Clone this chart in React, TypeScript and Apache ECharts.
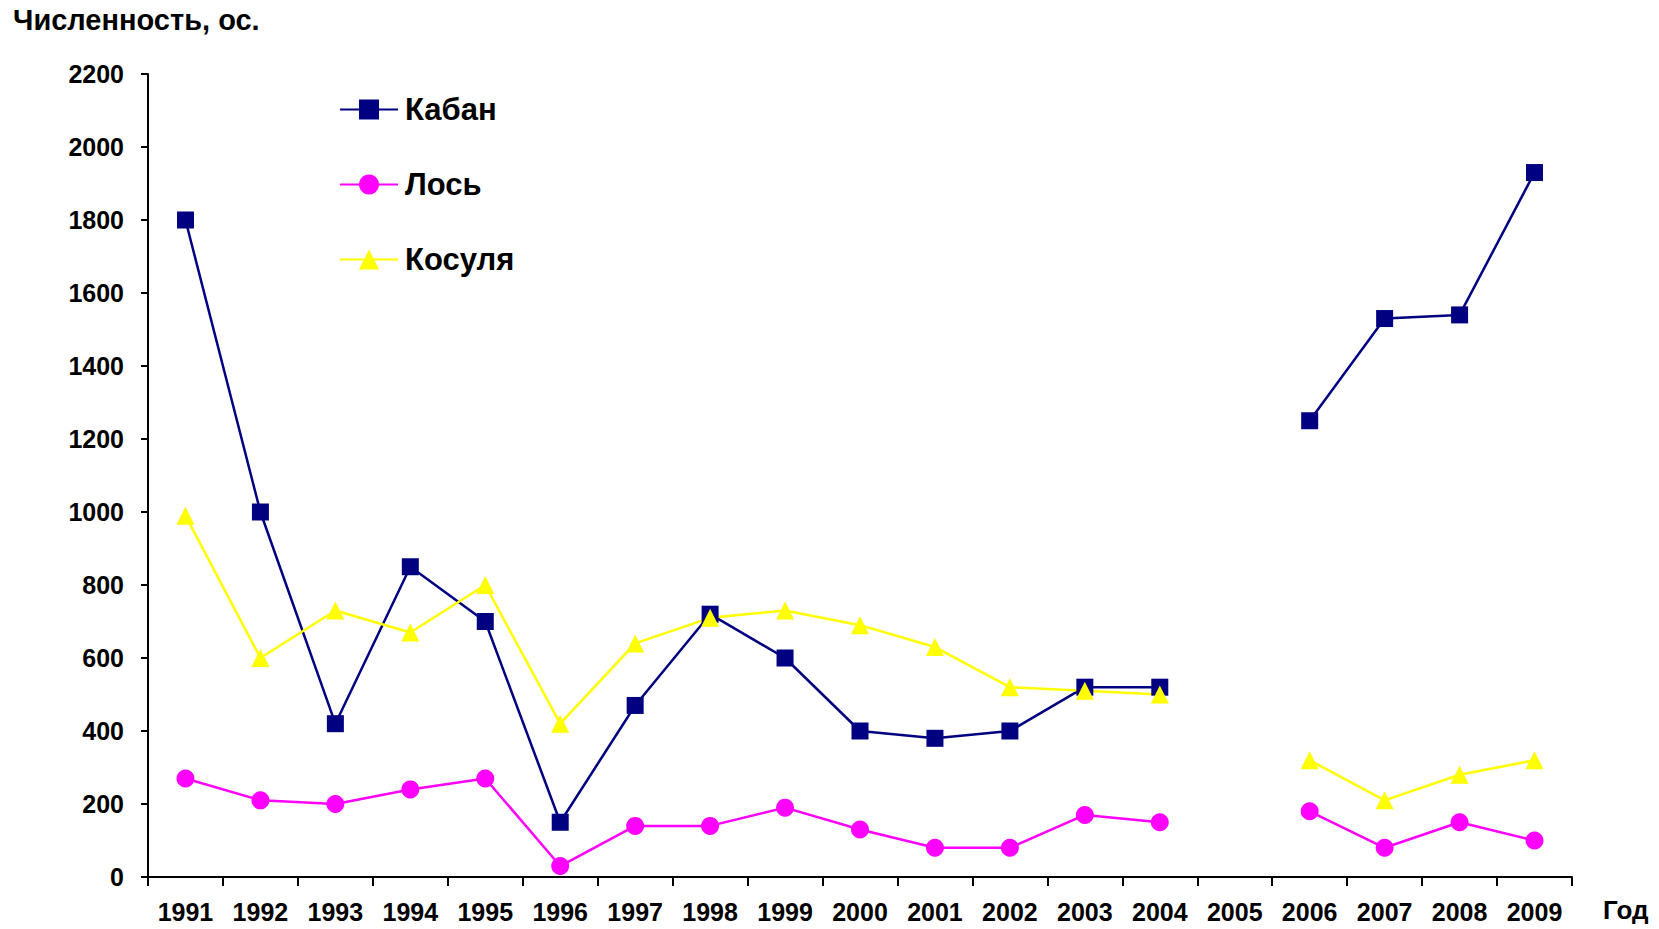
import React, { useEffect, useRef } from "react";
import * as echarts from "echarts";

const years = ["1991","1992","1993","1994","1995","1996","1997","1998","1999","2000","2001","2002","2003","2004","2005","2006","2007","2008","2009"];
const kaban = [1800, 1000, 420, 850, 700, 150, 470, 720, 600, 400, 380, 400, 520, 520, null, 1250, 1530, 1540, 1930];
const los = [270, 210, 200, 240, 270, 30, 140, 140, 190, 130, 80, 80, 170, 150, null, 180, 80, 150, 100];
const kosulya = [990, 600, 730, 670, 800, 420, 640, 710, 730, 690, 630, 520, 510, 500, null, 320, 210, 280, 320];

const FONT = "Arial, 'Liberation Sans', sans-serif";

export default function App() {
  const ref = useRef<HTMLDivElement>(null);
  useEffect(() => {
    if (!ref.current) return;
    const chart = echarts.init(ref.current, null, { renderer: "svg" });
    const mk = (name: string, data: (number | null)[], color: string, symbol: string, size: number) => ({
      name,
      type: "line",
      data,
      connectNulls: false,
      symbol,
      symbolSize: size,
      lineStyle: { color, width: 2.5 },
      itemStyle: { color, borderWidth: 0 },
      emphasis: { disabled: true },
    });
    chart.setOption({
      animation: false,
      backgroundColor: "#ffffff",
      textStyle: { fontFamily: FONT },
      grid: { left: 148, right: 87, top: 74, bottom: 52, containLabel: false },
      legend: {
        orient: "vertical",
        left: 334,
        top: 89,
        itemWidth: 58,
        itemHeight: 25,
        itemGap: 44,
        data: ["Кабан", "Лось", "Косуля"],
        textStyle: { fontFamily: FONT, fontWeight: "bold", fontSize: 31, color: "#000", padding: [0, 0, 0, 2] },
      },
      xAxis: {
        type: "category",
        data: years,
        boundaryGap: true,
        axisLine: { lineStyle: { color: "#000", width: 2 } },
        axisTick: { show: true, length: 9, lineStyle: { color: "#000", width: 2 }, alignWithLabel: false },
        axisLabel: { color: "#000", fontFamily: FONT, fontWeight: "bold", fontSize: 25, margin: 22, interval: 0 },
        splitLine: { show: false },
      },
      yAxis: {
        type: "value",
        min: 0,
        max: 2200,
        interval: 200,
        axisLine: { show: true, lineStyle: { color: "#000", width: 2 } },
        axisTick: { show: true, length: 7, lineStyle: { color: "#000", width: 2 } },
        axisLabel: { color: "#000", fontFamily: FONT, fontWeight: "bold", fontSize: 25, margin: 24, formatter: (v: number) => String(v) },
        splitLine: { show: false },
      },
      graphic: [
        {
          type: "text",
          left: 13,
          top: 5,
          style: { text: "Численность, ос.", fill: "#000", font: `bold 29px ${FONT}` },
        },
        {
          type: "text",
          left: 1603,
          top: 897,
          style: { text: "Год", fill: "#000", font: `bold 26px ${FONT}` },
        },
      ],
      series: [
        mk("Кабан", kaban, "#000080", "rect", 17),
        mk("Лось", los, "#ff00ff", "circle", 18),
        mk("Косуля", kosulya, "#ffff00", "triangle", 18),
      ],
    });
    return () => chart.dispose();
  }, []);
  return <div ref={ref} style={{ position: "fixed", left: 0, top: 0, width: 1659, height: 929 }} />;
}
